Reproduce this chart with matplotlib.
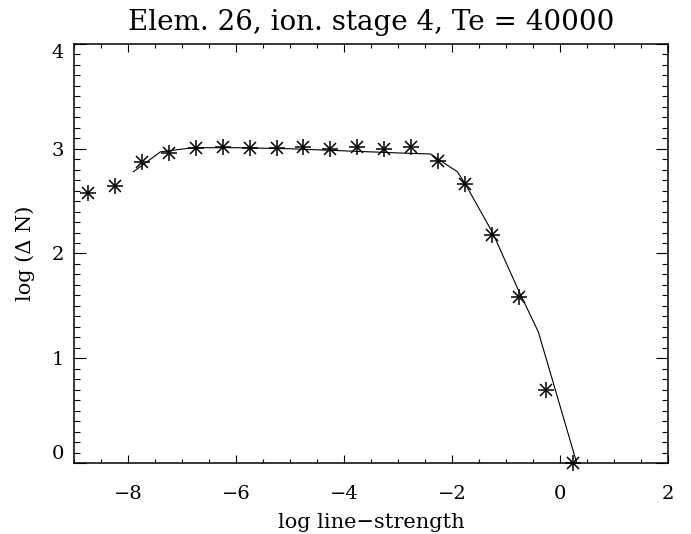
import numpy as np
import matplotlib
matplotlib.use('Agg')
import matplotlib.pyplot as plt
from matplotlib.ticker import MultipleLocator

plt.rcParams['font.family'] = ['DejaVu Serif']

# observed points (asterisks)
pts_x = [-8.75, -8.25, -7.75, -7.25, -6.75, -6.25, -5.75, -5.25, -4.75,
         -4.25, -3.75, -3.25, -2.75, -2.25, -1.75, -1.25, -0.75, -0.25, 0.25]
pts_y = [2.58, 2.64, 2.87, 2.96, 3.01, 3.02, 3.01, 3.01, 3.02,
         3.00, 3.02, 3.00, 3.02, 2.88, 2.66, 2.18, 1.58, 0.70, 0.00]

# model curve
fit_x = [-7.9, -7.4, -6.8, -6.0, -5.0, -4.0, -3.0, -2.4, -1.9, -1.75,
         -1.25, -0.77, -0.4, 0.31]
fit_y = [2.78, 2.97, 3.01, 3.01, 3.00, 2.98, 2.96, 2.95, 2.78, 2.66,
         2.20, 1.65, 1.25, 0.0]

title = 'Elem. 26, ion. stage 4, Te = 40000'

fig = plt.figure(figsize=(6.91, 5.34), dpi=100)
ax = fig.add_axes([0.1071, 0.133, 0.8596, 0.7846])

ax.plot(fit_x, fit_y, '-k', lw=0.8)
ax.plot(pts_x, pts_y, '+', color='k', ms=11, mew=1.1, clip_on=False)
ax.plot(pts_x, pts_y, 'x', color='k', ms=8, mew=1.1, clip_on=False)

ax.set_xlim(-9, 2)
ax.set_ylim(0, 4)
ax.xaxis.set_major_locator(MultipleLocator(2))
ax.xaxis.set_minor_locator(MultipleLocator(0.5))
ax.yaxis.set_major_locator(MultipleLocator(1))
ax.yaxis.set_minor_locator(MultipleLocator(0.1))

for s in ax.spines.values():
    s.set_linewidth(1.1)

ax.tick_params(axis='x', which='major', direction='in', length=5.8, width=0.8,
               top=True, bottom=True, labelsize=14, pad=16)
ax.tick_params(axis='x', which='minor', direction='in', length=2.9, width=0.8,
               top=True, bottom=True)
ax.tick_params(axis='y', which='major', direction='in', length=8.6, width=0.8,
               left=True, right=True, labelsize=14, pad=7)
ax.tick_params(axis='y', which='minor', direction='in', length=4.3, width=0.8,
               left=True, right=True)

ax.set_xticks([-8, -6, -4, -2, 0, 2])
ax.set_xticklabels(['\u22128', '\u22126', '\u22124', '\u22122', '0', '2'])
ax.set_yticks([0, 1, 2, 3, 4])
ylabs = ax.set_yticklabels(['0', '1', '2', '3', '4'])
ylabs[0].set_va('bottom')
ylabs[-1].set_va('top')

ax.set_title(title, fontsize=20, pad=10)
ax.set_xlabel('log line\u2212strength', fontsize=15, labelpad=7)
ax.set_ylabel('log (\u0394 N)', fontsize=15, labelpad=12)

fig.savefig('out.png', dpi=100)
